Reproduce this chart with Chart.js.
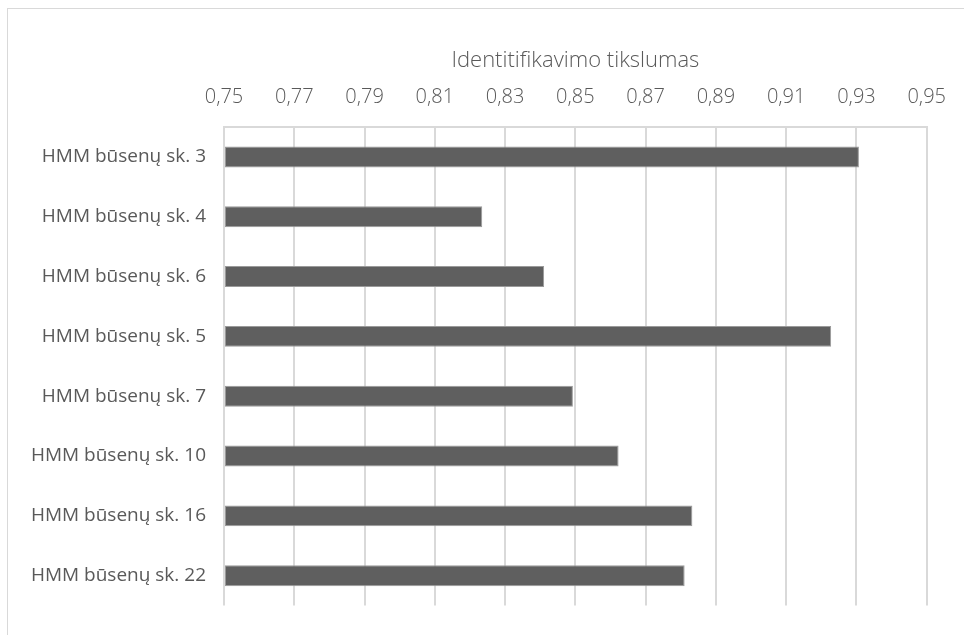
<!DOCTYPE html>
<html>
<head>
    <title>Identitifikavimo tikslumas</title>
    <script src="https://cdn.jsdelivr.net/npm/chart.js"></script>
    <style>
        body { margin: 0; background: #fff; }
        #frame { position: absolute; left: 7px; top: 8px; width: 980px; height: 660px; border: 1px solid #d9d9d9; }
        #wrap { position: absolute; left: 0; top: 0; width: 964px; height: 635px; }
    </style>
</head>
<body>
    <div id="frame"></div>
    <div id="wrap"><canvas id="myChart"></canvas></div>
    <script>
        const categories = [
            'HMM būsenų sk. 3',
            'HMM būsenų sk. 4',
            'HMM būsenų sk. 6',
            'HMM būsenų sk. 5',
            'HMM būsenų sk. 7',
            'HMM būsenų sk. 10',
            'HMM būsenų sk. 16',
            'HMM būsenų sk. 22'
        ];
        const accuracy = [0.9307, 0.8235, 0.8411, 0.9228, 0.8493, 0.8623, 0.8833, 0.8811];
        const tickValues = [0.75, 0.77, 0.79, 0.81, 0.83, 0.85, 0.87, 0.89, 0.91, 0.93, 0.95];

        const ctx = document.getElementById('myChart').getContext('2d');
        const myChart = new Chart(ctx, {
            type: 'bar',
            data: {
                labels: categories,
                datasets: [{
                    label: 'Identitifikavimo tikslumas',
                    data: accuracy,
                    backgroundColor: '#5f5f5f',
                    borderColor: '#9a9a9a',
                    borderWidth: 1,
                    borderSkipped: false,
                    base: 0.75,
                    categoryPercentage: 1,
                    barPercentage: 0.35
                }]
            },
            options: {
                indexAxis: 'y',
                responsive: true,
                maintainAspectRatio: false,
                animation: false,
                layout: { padding: { left: 10, right: 35, top: 48, bottom: 24 } },
                plugins: {
                    legend: { display: false },
                    tooltip: { enabled: false }
                },
                scales: {
                    x: {
                        position: 'top',
                        min: 0.75,
                        max: 0.95,
                        afterBuildTicks: function(axis) {
                            axis.ticks = tickValues.map(v => ({ value: v }));
                        },
                        afterFit: function(axis) { axis.height = 79; },
                        grid: { color: '#d9d9d9', lineWidth: 2, drawTicks: false },
                        border: { display: true, color: '#d9d9d9', width: 2 },
                        ticks: {
                            color: '#595959',
                            padding: 18,
                            font: { family: 'Open Sans', size: 20, weight: 300 },
                            callback: v => v.toFixed(2).replace('.', ',')
                        },
                        title: {
                            display: true,
                            text: 'Identitifikavimo tikslumas',
                            color: '#595959',
                            font: { family: 'Open Sans', size: 22, weight: 300 },
                            padding: { top: 0, bottom: 6 }
                        }
                    },
                    y: {
                        afterFit: function(axis) { axis.width = 214; },
                        grid: { display: false, drawTicks: false },
                        border: { display: false },
                        ticks: {
                            color: '#595959',
                            padding: 18,
                            font: { family: 'Open Sans', size: 19 }
                        }
                    }
                }
            }
        });
    </script>
</body>
</html>
